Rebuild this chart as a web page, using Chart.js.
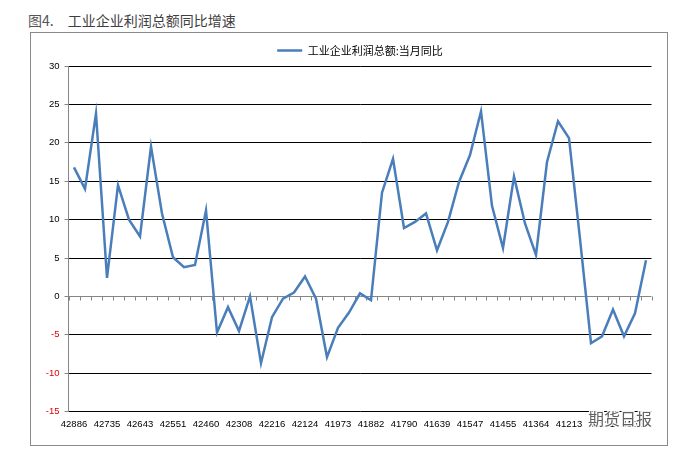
<!DOCTYPE html>
<html>
<head>
<meta charset="utf-8">
<script src="https://cdn.jsdelivr.net/npm/chart.js@4.4.0/dist/chart.umd.min.js"></script>
<style>
  html, body { margin: 0; padding: 0; background: #fff; }
  body { width: 696px; height: 466px; position: relative; overflow: hidden; }
  #heading {
    position: absolute; left: 28px; top: 10px;
    font: 14px "Noto Sans CJK SC", sans-serif; color: #404040; white-space: pre;
  }
  #heading .num { color: #555; margin-right: 14px; }
  #box {
    position: absolute; left: 30px; top: 32px; width: 636px; height: 412px;
    border: 1px solid #8a8a8a;
  }
</style>
</head>
<body>
<div id="heading"><span class="num">图4.</span>工业企业利润总额同比增速</div>
<div id="box"><canvas id="chart" width="636" height="412"></canvas></div>
<script>
// month-end dates (Excel serials), newest first, Jan/Feb not published
const dates = [
  42886, 42855, 42825,
  42735, 42704, 42674, 42643, 42613, 42582, 42551, 42521, 42490, 42460,
  42369, 42338, 42308, 42277, 42247, 42216, 42185, 42155, 42124, 42094,
  42004, 41973, 41943, 41912, 41882, 41851, 41820, 41790, 41759, 41729,
  41639, 41608, 41578, 41547, 41517, 41486, 41455, 41425, 41394, 41364,
  41274, 41243, 41213, 41182, 41152, 41121, 41090, 41060, 41029, 40999
];
const profitYoY = [
  16.8, 14.0, 23.8,
  2.4, 14.5, 10.0, 7.8, 19.5, 10.8, 5.1, 3.8, 4.1, 11.2,
  -4.7, -1.4, -4.5, 0.0, -8.7, -2.7, -0.3, 0.5, 2.6, -0.3,
  -7.9, -4.1, -2.1, 0.4, -0.5, 13.5, 17.9, 8.9, 9.7, 10.8,
  6.0, 9.7, 14.9, 18.4, 24.1, 11.8, 6.3, 15.6, 9.5, 5.4,
  17.5, 22.8, 20.6, 7.5, -6.1, -5.2, -1.7, -5.2, -2.2, 4.7
];
const SERIES_NAME = "工业企业利润总额:当月同比";
const Y_MIN = -15, Y_MAX = 30, Y_STEP = 5;
const LABEL_EVERY = 3;

const LINE_COLOR = "#4a7ebb";
const AXIS_GRAY = "#868686";

// legend sits centred over the plot area, not over the whole canvas
const centerLegend = {
  id: "centerLegend",
  afterLayout(chart) {
    const lg = chart.legend, ca = chart.chartArea;
    if (!lg) return;
    const shift = (ca.left + ca.right) / 2 - (lg.left + lg.right) / 2;
    lg.left += shift;
    lg.right += shift;
  }
};

// small tick marks on the zero line, one per category boundary
const zeroTicks = {
  id: "zeroTicks",
  beforeDatasetsDraw(chart) {
    const { ctx, scales: { x, y } } = chart;
    const y0 = Math.round(y.getPixelForValue(0)) + 0.5;
    const half = (x.getPixelForValue(1) - x.getPixelForValue(0)) / 2;
    ctx.save();
    ctx.strokeStyle = AXIS_GRAY;
    ctx.lineWidth = 1;
    ctx.beginPath();
    for (let i = 0; i <= dates.length; i++) {
      const px = Math.round(x.getPixelForValue(i) - half) + 0.5;
      ctx.moveTo(px, y0);
      ctx.lineTo(px, y0 + 4);
    }
    ctx.stroke();
    ctx.restore();
  }
};

// source watermark over the lower right corner
const watermark = {
  id: "watermark",
  afterDraw(chart) {
    const { ctx } = chart;
    ctx.save();
    ctx.font = "16px 'Noto Sans CJK SC', sans-serif";
    ctx.textBaseline = "middle";
    ctx.lineWidth = 2.5;
    ctx.strokeStyle = "rgba(255,255,255,0.95)";
    ctx.strokeText("期货日报", 557, 386);
    ctx.fillStyle = "rgba(70,70,70,0.85)";
    ctx.fillText("期货日报", 557, 386);
    ctx.restore();
  }
};

new Chart(document.getElementById("chart").getContext("2d"), {
  type: "line",
  data: {
    labels: dates,
    datasets: [{
      label: SERIES_NAME,
      data: profitYoY,
      borderColor: LINE_COLOR,
      backgroundColor: LINE_COLOR,
      borderWidth: 2.5,
      pointRadius: 0,
      tension: 0,
    }],
  },
  options: {
    responsive: false,
    animation: false,
    layout: { padding: { left: 0, right: 15.5, top: 0, bottom: 0 } },
    plugins: {
      legend: {
        position: "top",
        labels: {
          usePointStyle: true,
          pointStyle: "line",
          pointStyleWidth: 25,
          padding: 12,
          color: "#000",
          font: { family: "'Noto Sans CJK SC', sans-serif", size: 11 },
        },
      },
      tooltip: { enabled: false },
    },
    scales: {
      x: {
        type: "category",
        offset: true,
        grid: { display: false, drawTicks: false },
        border: { display: false },
        ticks: {
          autoSkip: false,
          maxRotation: 0,
          padding: 7,
          color: "#000",
          font: { family: "'Liberation Sans', sans-serif", size: 9.5 },
          callback: (v, i) => (i % LABEL_EVERY === 0 ? dates[i] : ""),
        },
        afterFit: s => { s.height = 33.4; },
      },
      y: {
        min: Y_MIN,
        max: Y_MAX,
        ticks: {
          stepSize: Y_STEP,
          padding: 5,
          font: { family: "'Liberation Sans', sans-serif", size: 9.5 },
          color: c => (c.tick.value < 0 ? "#e00000" : "#000"),
        },
        grid: {
          color: c => (c.tick.value === 0 ? AXIS_GRAY : "#000"),
          tickColor: AXIS_GRAY,
          tickLength: 4,
        },
        border: { color: AXIS_GRAY },
        afterFit: s => { s.width = 37.5; },
      },
    },
  },
  plugins: [centerLegend, zeroTicks, watermark],
});
</script>
</body>
</html>
